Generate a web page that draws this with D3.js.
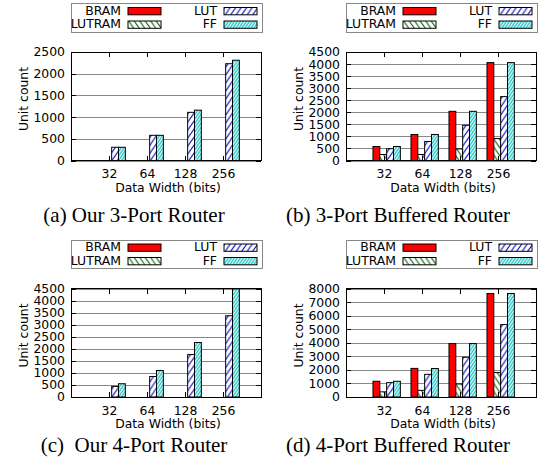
<!DOCTYPE html>
<html lang="en-US">
<head>
<meta charset="utf-8">
<script src="https://d3js.org/d3.v7.min.js"></script>
<style>
    body { margin: 0; background: #fff; }
    svg text { font-family: "DejaVu Sans", sans-serif; font-size: 12.4px; fill: #000; }
    svg text.caption { font-family: "Liberation Serif", serif; font-size: 21px; white-space: pre; }
    .grid line { stroke: #888; shape-rendering: crispEdges; }
    .ticks line { stroke: #000; shape-rendering: crispEdges; }
    .grid .domain, .ticks .domain { display: none; }
    .frame { fill: none; stroke: #000; shape-rendering: crispEdges; }
    .legend-box { fill: #fff; stroke: #888; shape-rendering: crispEdges; }
</style>
</head>
<body>
<div id="canvas"></div>
<script>
var categories = ["32", "64", "128", "256"];
var seriesNames = ["BRAM", "LUTRAM", "LUT", "FF"];

// rows: BRAM, LUTRAM, LUT, FF -- columns: data width 32, 64, 128, 256
var our3Port = [
    [0, 0, 0, 0],
    [0, 0, 0, 0],
    [305, 580, 1110, 2230],
    [305, 580, 1160, 2310]
];
var buffered3Port = [
    [580, 1080, 2040, 4060],
    [250, 250, 480, 910],
    [490, 790, 1460, 2650],
    [580, 1080, 2040, 4060]
];
var our4Port = [
    [0, 0, 0, 0],
    [0, 0, 0, 0],
    [440, 850, 1760, 3370],
    [550, 1100, 2260, 4480]
];
var buffered4Port = [
    [1160, 2110, 3940, 7630],
    [380, 490, 960, 1800],
    [1060, 1670, 2930, 5340],
    [1160, 2100, 3940, 7630]
];

var captions = ["(a) Our 3-Port Router", "(b) 3-Port Buffered Router",
                "(c)  Our 4-Port Router", "(d) 4-Port Buffered Router"];
var yMaxes = [2500, 4500, 4500, 8000];
var yTickSteps = [500, 500, 500, 1000];

var panels = [our3Port, buffered3Port, our4Port, buffered4Port];

// layout
var plotW = 190, plotH = 108.5;
var plotLefts = [71, 346], plotTops = [52, 288.5];
var captionX = [134, 398], captionY = [221.5, 452];
var barWidth = 0.18, barStart = -0.29;

var svg = d3.select("#canvas")
    .append("svg")
    .attr("width", 546)
    .attr("height", 466);

svg.append("rect").attr("width", 546).attr("height", 466).attr("fill", "#fff");

// fill patterns, gnuplot style
var defs = svg.append("defs");

function hatch(id, w, h, bg, color, width, forward) {
    var p = defs.append("pattern")
        .attr("id", id)
        .attr("patternUnits", "userSpaceOnUse")
        .attr("width", w)
        .attr("height", h);
    p.append("rect").attr("width", w).attr("height", h).attr("fill", bg);
    var d;
    if (forward) {
        d = "M" + (-w) + "," + (2 * h) + "L" + (2 * w) + "," + (-h) +
            "M" + (-w) + "," + h + "L" + w + "," + (-h) +
            "M0," + (2 * h) + "L" + (2 * w) + ",0";
    } else {
        d = "M" + (-w) + "," + (-h) + "L" + (2 * w) + "," + (2 * h) +
            "M" + (-w) + ",0L" + w + "," + (2 * h) +
            "M0," + (-h) + "L" + (2 * w) + "," + h;
    }
    p.append("path").attr("d", d).attr("stroke", color).attr("stroke-width", width);
}
hatch("pat-lutram", 5.5, 8, "#fff", "#1c701c", 1.2, false);
hatch("pat-lut", 5.5, 8, "#fff", "#1a1ac8", 1.2, true);
hatch("pat-ff", 3, 4.4, "#38cccc", "#fff", 0.9, true);

var fills = ["#ff0000", "url(#pat-lutram)", "url(#pat-lut)", "url(#pat-ff)"];

panels.forEach(function (values, k) {
    var col = k % 2, row = Math.floor(k / 2);
    var g = svg.append("g")
        .attr("transform", "translate(" + plotLefts[col] + "," + plotTops[row] + ")");

    var x = d3.scaleLinear().domain([-1, 4]).range([0, plotW]);
    var y = d3.scaleLinear().domain([0, yMaxes[k]]).range([plotH, 0]);
    var yTicks = d3.range(0, yMaxes[k] + 1, yTickSteps[k]);
    var xTicks = d3.range(categories.length);

    g.append("g")
        .attr("class", "grid")
        .call(d3.axisLeft(y).tickValues(yTicks).tickSize(-plotW).tickFormat(""));

    // bars
    var bars = [];
    values.forEach(function (arr, j) {
        arr.forEach(function (v, i) {
            if (v > 0) bars.push({ s: j, i: i, v: v });
        });
    });
    g.selectAll(".bar")
        .data(bars)
        .enter()
        .append("rect")
        .attr("class", "bar")
        .attr("x", function (d) { return x(d.i + barStart + d.s * barWidth); })
        .attr("width", x(barWidth) - x(0))
        .attr("y", function (d) { return y(d.v); })
        .attr("height", function (d) { return plotH - y(d.v); })
        .attr("fill", function (d) { return fills[d.s]; })
        .attr("stroke", "#000")
        .attr("stroke-width", 1);

    // axes, ticks pointing inwards on all four sides
    g.append("g")
        .attr("class", "ticks")
        .call(d3.axisLeft(y).tickValues(yTicks).tickSize(-5).tickPadding(6).tickFormat(d3.format("d")));
    g.append("g")
        .attr("class", "ticks")
        .attr("transform", "translate(" + plotW + ",0)")
        .call(d3.axisRight(y).tickValues(yTicks).tickSize(-5).tickFormat(""));
    g.append("g")
        .attr("class", "ticks")
        .attr("transform", "translate(0," + plotH + ")")
        .call(d3.axisBottom(x).tickValues(xTicks).tickSize(-5).tickPadding(8.8)
            .tickFormat(function (i) { return categories[i]; }));
    g.append("g")
        .attr("class", "ticks")
        .call(d3.axisTop(x).tickValues(xTicks).tickSize(-5).tickFormat(""));

    g.append("rect")
        .attr("class", "frame")
        .attr("width", plotW)
        .attr("height", plotH);

    g.append("text")
        .attr("x", plotW / 2 + 2)
        .attr("y", plotH + 31)
        .attr("text-anchor", "middle")
        .text("Data Width (bits)");

    g.append("text")
        .attr("transform", "translate(-43," + 47 + ") rotate(-90)")
        .attr("text-anchor", "middle")
        .text("Unit count");

    // legend
    var legend = g.append("g").attr("transform", "translate(0,-48.5)");
    legend.append("rect")
        .attr("class", "legend-box")
        .attr("width", plotW + 1)
        .attr("height", 28.5);
    var items = legend.selectAll(".item")
        .data(seriesNames)
        .enter()
        .append("g")
        .attr("transform", function (d, j) {
            return "translate(" + (Math.floor(j / 2) * 96) + "," + (j % 2 * 13.5) + ")";
        });
    items.append("text")
        .attr("x", 50)
        .attr("y", 11)
        .attr("text-anchor", "end")
        .text(function (d) { return d; });
    items.append("rect")
        .attr("x", 57)
        .attr("y", 4)
        .attr("width", 33)
        .attr("height", 7.3)
        .attr("fill", function (d, j) { return fills[j]; })
        .attr("stroke", "#000");

    svg.append("text")
        .attr("class", "caption")
        .attr("x", captionX[col])
        .attr("y", captionY[row])
        .attr("text-anchor", "middle")
        .text(captions[k]);
});
</script>
</body>
</html>
